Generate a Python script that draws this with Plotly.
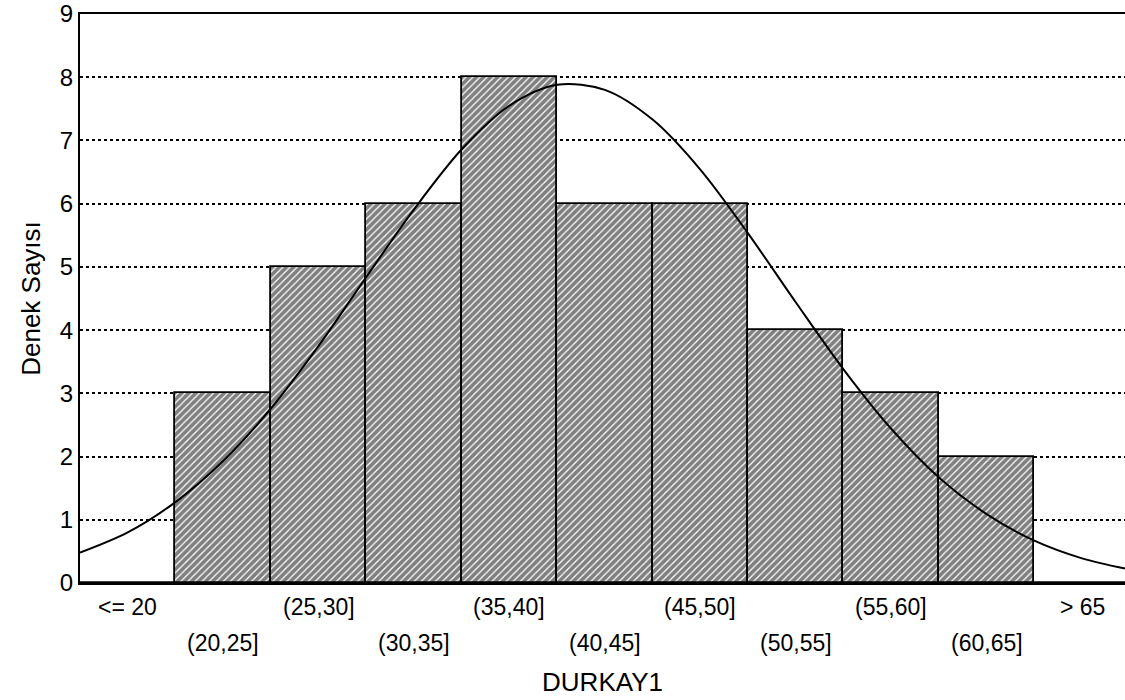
import plotly.graph_objects as go

# Categories (class intervals) and counts
categories = ["<= 20", "(20,25]", "(25,30]", "(30,35]", "(35,40]", "(40,45]",
              "(45,50]", "(50,55]", "(55,60]", "(60,65]", "> 65"]
counts = [0, 3, 5, 6, 8, 6, 6, 4, 3, 2, 0]

# Fitted normal curve (x in category-index units)
curve_x = [-0.5, 0.0, 0.5, 1.0, 1.5, 2.0, 2.5, 3.0, 3.5, 4.0, 4.5,
           5.0, 5.5, 6.0, 6.5, 7.0, 7.5, 8.0, 8.5, 9.0, 9.5, 10.0, 10.45]
curve_y = [0.48, 0.80, 1.28, 1.93, 2.76, 3.75, 4.84, 5.91, 6.86, 7.55, 7.88,
           7.80, 7.33, 6.54, 5.53, 4.44, 3.38, 2.44, 1.67, 1.09, 0.67,
           0.39, 0.23]

y_ticks = list(range(0, 10))
x_title = "DURKAY1"
y_title = "Denek Sayısı"

FONT = "Liberation Sans, Arial, sans-serif"
positions = list(range(len(categories)))

fig = go.Figure()
fig.add_trace(go.Bar(
    x=positions, y=counts, width=1.0,
    marker=dict(color="white",
                line=dict(color="black", width=1.8),
                pattern=dict(shape="/", size=5, solidity=0.75,
                             fgcolor="#000000", bgcolor="white")),
    showlegend=False, hoverinfo="x+y",
))
fig.add_trace(go.Scatter(
    x=curve_x, y=curve_y, mode="lines",
    line=dict(color="black", width=2, shape="spline", smoothing=0.9),
    showlegend=False, cliponaxis=True,
))

# Staggered category labels (two rows)
for i, lab in enumerate(categories):
    fig.add_annotation(
        x=i, xref="x", y=0, yref="paper",
        text=lab, showarrow=False,
        yanchor="middle", yshift=-24 if i % 2 == 0 else -60,
        font=dict(family=FONT, size=23, color="black"),
    )

fig.update_layout(
    width=1125, height=700,
    margin=dict(l=80, r=0, t=14, b=117),
    paper_bgcolor="white", plot_bgcolor="white",
    font=dict(family=FONT, size=23, color="black"),
    bargap=0,
)
fig.update_xaxes(
    range=[-0.5, 10.45], showgrid=False, zeroline=False,
    showticklabels=False, ticks="",
    showline=True, linecolor="black", linewidth=2, mirror=True,
    title=dict(text=x_title, font=dict(family=FONT, size=26), standoff=89),
)
fig.update_yaxes(
    range=[0, 9], tickvals=y_ticks, ticktext=[str(v) for v in y_ticks],
    showgrid=True, gridcolor="black", griddash="dot", gridwidth=1.5,
    zeroline=False, showline=True, linecolor="black", linewidth=2,
    ticks="", tickfont=dict(family=FONT, size=24),
    title=dict(text=y_title, font=dict(family=FONT, size=26), standoff=12),
)

fig.write_html("out.html")
